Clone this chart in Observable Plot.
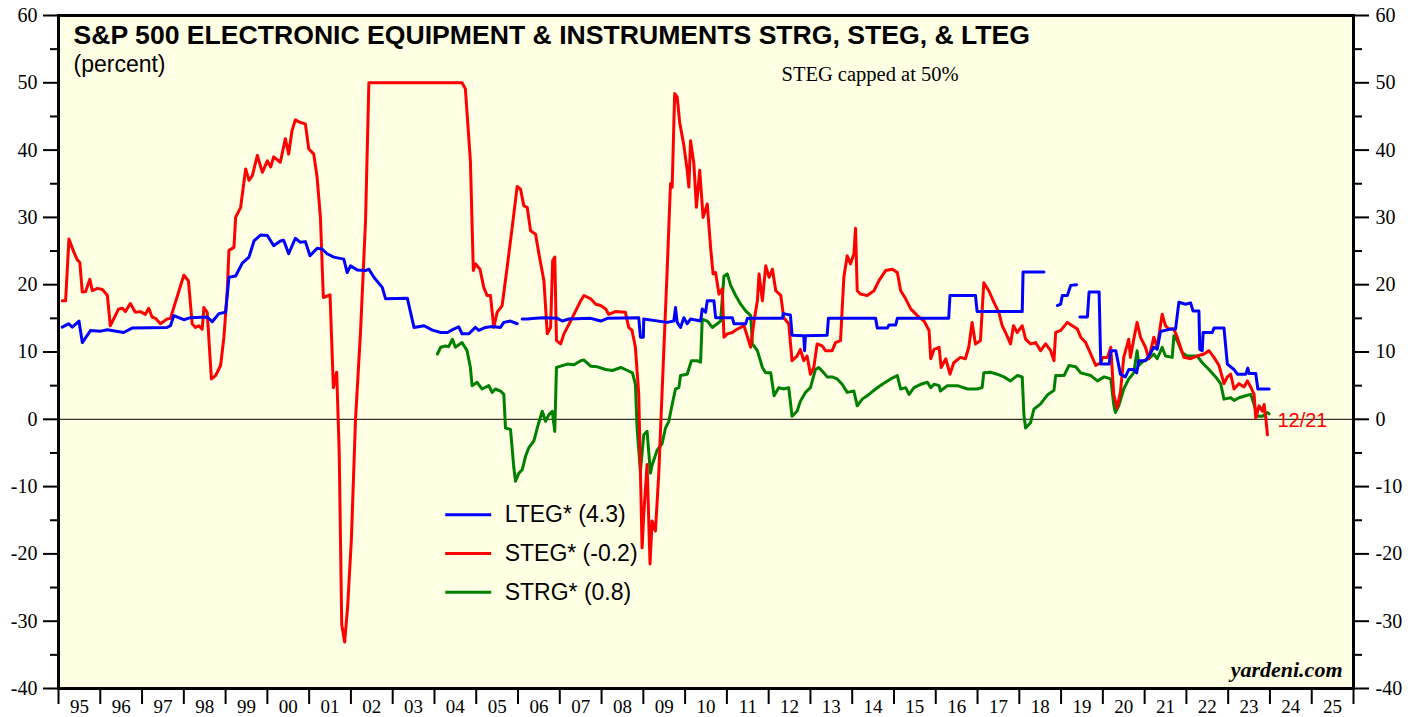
<!DOCTYPE html>
<html><head><meta charset="utf-8">
<script src="https://cdn.jsdelivr.net/npm/d3@7"></script>
<script src="https://cdn.jsdelivr.net/npm/@observablehq/plot@0.6"></script>
<style>body{margin:0;background:#fff}</style>
</head><body><div id="chart"></div>
<script>
// ---- data (decimal year, percent) ----
const lteg = [[1995.09,13.7],[1995.24,14.2],[1995.33,13.7],[1995.49,14.6],[1995.57,11.4],[1995.77,13.2],[1996.01,13.1],[1996.17,13.3],[1996.56,12.9],[1996.76,13.55],[1997.60,13.65],[1997.68,13.9],[1997.76,15.4],[1998.00,14.8],[1998.16,15.1],[1998.56,15.2],[1998.68,14.5],[1998.84,15.7],[1999.00,15.9],[1999.08,21.1],[1999.24,21.3],[1999.40,23.2],[1999.56,24.1],[1999.68,26.5],[1999.84,27.4],[2000.00,27.3],[2000.15,25.8],[2000.31,26.5],[2000.39,26.6],[2000.51,24.6],[2000.67,26.9],[2000.79,26.3],[2000.91,26.4],[2001.02,24.3],[2001.19,25.4],[2001.31,25.3],[2001.43,24.6],[2001.59,24.1],[2001.83,23.8],[2001.91,21.8],[2001.99,22.8],[2002.15,22.2],[2002.35,22.1],[2002.43,22.3],[2002.55,21.1],[2002.75,19.6],[2002.83,17.9],[2003.35,18.0],[2003.51,13.65],[2003.75,13.9],[2003.95,13.25],[2004.15,12.9],[2004.31,12.9],[2004.46,13.4],[2004.58,13.75],[2004.66,12.7],[2004.82,12.7],[2004.98,13.65],[2005.06,13.2],[2005.22,13.65],[2005.38,13.8],[2005.58,13.65],[2005.66,14.4],[2005.82,14.6],[2005.98,14.2],[2006.04,null],[2006.10,14.9],[2006.22,14.9],[2006.42,15.0],[2006.62,15.1],[2006.94,15.0],[2007.06,14.6],[2007.22,14.9],[2007.74,15.0],[2007.98,14.6],[2008.14,15.0],[2008.89,15.1],[2008.93,12.2],[2009.00,12.2],[2009.01,14.9],[2009.57,14.4],[2009.73,14.6],[2009.77,16.6],[2009.81,14.4],[2009.89,13.65],[2009.97,15.1],[2010.05,14.2],[2010.13,14.9],[2010.37,14.6],[2010.41,16.4],[2010.49,15.9],[2010.53,17.6],[2010.69,17.6],[2010.73,15.1],[2011.13,15.1],[2011.17,14.2],[2011.45,14.2],[2011.49,15.0],[2012.33,15.0],[2012.35,15.7],[2012.52,15.5],[2012.56,12.5],[2012.84,12.4],[2012.86,10.2],[2012.88,12.4],[2013.40,12.5],[2013.43,15.0],[2014.56,15.0],[2014.60,13.55],[2014.84,13.55],[2014.88,14.0],[2015.04,14.0],[2015.08,15.0],[2016.31,15.0],[2016.34,18.4],[2016.95,18.4],[2016.99,16.0],[2018.07,16.0],[2018.09,21.9],[2018.59,21.9],[2018.75,null],[2018.91,16.9],[2018.99,17.1],[2019.03,18.4],[2019.15,18.4],[2019.23,19.9],[2019.37,20.0],[2019.41,null],[2019.45,15.2],[2019.63,15.2],[2019.67,18.9],[2019.91,18.9],[2019.95,8.2],[2020.15,8.2],[2020.19,10.2],[2020.31,10.2],[2020.42,6.7],[2020.54,6.3],[2020.62,7.4],[2020.74,7.4],[2020.81,6.9],[2020.86,8.7],[2021.02,8.7],[2021.10,9.4],[2021.22,10.7],[2021.30,10.4],[2021.38,13.05],[2021.62,13.4],[2021.74,13.4],[2021.82,17.4],[2021.98,17.1],[2022.10,17.3],[2022.16,16.1],[2022.30,16.1],[2022.32,10.4],[2022.38,10.2],[2022.40,12.9],[2022.62,12.9],[2022.66,13.55],[2022.90,13.55],[2022.98,8.2],[2023.14,7.4],[2023.22,6.7],[2023.42,6.7],[2023.47,7.6],[2023.50,6.8],[2023.66,6.8],[2023.71,4.5],[2023.98,4.5]];

const steg = [[1995.09,17.6],[1995.17,17.6],[1995.25,26.8],[1995.37,24.8],[1995.45,23.7],[1995.51,23.3],[1995.57,18.9],[1995.65,19.0],[1995.75,20.8],[1995.81,19.1],[1995.93,19.45],[1996.05,19.3],[1996.17,18.4],[1996.24,13.9],[1996.44,16.4],[1996.53,16.5],[1996.60,16.0],[1996.72,17.2],[1996.84,15.9],[1996.96,16.0],[1997.08,15.6],[1997.16,16.5],[1997.24,15.2],[1997.32,15.0],[1997.44,14.2],[1997.60,14.9],[1997.68,15.0],[1998.00,21.4],[1998.11,20.6],[1998.20,14.2],[1998.28,13.65],[1998.36,13.9],[1998.44,13.4],[1998.48,16.6],[1998.56,15.9],[1998.66,6.0],[1998.76,6.5],[1998.88,8.0],[1998.96,12.2],[1999.04,19.1],[1999.08,25.1],[1999.20,25.55],[1999.24,30.0],[1999.36,31.5],[1999.48,37.2],[1999.56,35.5],[1999.64,36.2],[1999.76,39.2],[1999.88,36.7],[2000.00,38.4],[2000.08,37.5],[2000.15,39.0],[2000.31,38.2],[2000.43,41.7],[2000.51,39.4],[2000.59,42.9],[2000.67,44.5],[2000.79,44.1],[2000.91,43.9],[2000.99,40.2],[2001.11,39.4],[2001.19,36.0],[2001.27,30.0],[2001.34,18.1],[2001.50,18.5],[2001.58,4.7],[2001.66,7.0],[2001.72,-5.0],[2001.78,-30.5],[2001.85,-33.1],[2001.92,-28.0],[2002.01,-18.0],[2002.11,0.0],[2002.23,13.0],[2002.35,29.5],[2002.43,50.0],[2004.66,50.0],[2004.74,49.1],[2004.86,38.4],[2004.93,22.1],[2004.98,23.1],[2005.09,22.3],[2005.18,19.6],[2005.26,18.4],[2005.34,18.4],[2005.42,13.65],[2005.50,15.9],[2005.62,16.9],[2005.74,22.6],[2005.86,28.5],[2005.98,34.6],[2006.06,34.2],[2006.14,31.7],[2006.22,31.5],[2006.30,28.0],[2006.42,27.5],[2006.50,24.6],[2006.62,20.6],[2006.70,12.7],[2006.78,13.65],[2006.83,23.6],[2006.88,24.1],[2006.92,11.7],[2007.02,11.2],[2007.10,12.7],[2007.26,14.6],[2007.38,16.1],[2007.50,17.6],[2007.58,18.4],[2007.74,17.9],[2007.86,17.1],[2007.98,16.9],[2008.10,16.4],[2008.17,15.6],[2008.33,16.0],[2008.57,15.9],[2008.65,13.65],[2008.73,13.2],[2008.81,10.7],[2008.89,3.7],[2008.93,-7.7],[2008.97,-19.1],[2009.01,-14.1],[2009.09,-6.7],[2009.16,-21.5],[2009.21,-15.1],[2009.29,-16.6],[2009.37,-8.0],[2009.43,1.2],[2009.49,10.2],[2009.57,22.1],[2009.65,35.0],[2009.69,34.5],[2009.75,48.4],[2009.81,47.9],[2009.87,44.1],[2009.97,40.7],[2010.05,37.0],[2010.09,34.5],[2010.13,41.4],[2010.21,38.0],[2010.27,31.5],[2010.35,37.0],[2010.43,30.0],[2010.53,32.0],[2010.61,25.5],[2010.67,21.6],[2010.73,21.8],[2010.81,18.6],[2010.89,19.4],[2010.93,12.2],[2011.01,12.7],[2011.13,12.9],[2011.25,13.4],[2011.41,13.9],[2011.57,10.7],[2011.65,14.6],[2011.73,17.6],[2011.77,21.6],[2011.85,17.6],[2011.93,22.8],[2012.01,21.1],[2012.09,22.3],[2012.17,19.1],[2012.29,18.4],[2012.36,15.1],[2012.48,14.2],[2012.56,8.7],[2012.68,9.4],[2012.76,10.4],[2012.84,8.7],[2012.92,9.4],[2013.00,6.7],[2013.08,7.7],[2013.16,11.2],[2013.28,10.9],[2013.36,10.2],[2013.52,10.2],[2013.60,11.4],[2013.72,11.7],[2013.80,21.1],[2013.88,24.3],[2013.96,23.1],[2014.04,24.6],[2014.08,28.4],[2014.12,19.1],[2014.20,18.6],[2014.36,18.4],[2014.52,19.1],[2014.64,20.6],[2014.80,22.1],[2014.96,22.3],[2015.08,21.8],[2015.16,19.1],[2015.28,17.9],[2015.40,16.4],[2015.56,15.4],[2015.72,14.6],[2015.84,13.2],[2015.88,9.0],[2015.96,10.4],[2016.08,10.7],[2016.13,7.7],[2016.24,9.0],[2016.34,6.7],[2016.43,8.4],[2016.59,9.2],[2016.71,9.0],[2016.79,10.7],[2016.87,14.4],[2016.95,11.2],[2017.07,11.7],[2017.15,20.3],[2017.27,19.1],[2017.39,17.4],[2017.51,15.9],[2017.59,13.9],[2017.67,12.9],[2017.79,11.2],[2017.86,13.9],[2017.95,12.9],[2018.07,13.9],[2018.15,11.9],[2018.27,11.2],[2018.39,11.4],[2018.51,10.2],[2018.63,11.2],[2018.75,10.2],[2018.83,8.7],[2018.87,12.9],[2018.99,13.2],[2019.15,14.4],[2019.27,13.9],[2019.39,13.4],[2019.47,12.2],[2019.59,11.4],[2019.71,9.7],[2019.83,8.0],[2019.95,8.4],[2019.99,9.2],[2020.11,9.2],[2020.19,10.7],[2020.26,3.7],[2020.34,1.7],[2020.42,4.0],[2020.50,9.2],[2020.62,11.9],[2020.66,9.2],[2020.74,11.9],[2020.82,14.4],[2020.90,12.2],[2021.02,10.7],[2021.10,9.0],[2021.22,12.2],[2021.30,10.7],[2021.42,15.6],[2021.50,13.9],[2021.58,13.4],[2021.70,13.4],[2021.78,12.2],[2021.86,10.7],[2021.94,9.2],[2022.10,9.0],[2022.26,9.4],[2022.42,9.7],[2022.54,10.2],[2022.66,9.2],[2022.78,8.0],[2022.90,5.3],[2022.98,6.3],[2023.06,6.7],[2023.14,4.5],[2023.26,5.3],[2023.38,4.8],[2023.46,5.7],[2023.54,4.8],[2023.62,3.7],[2023.66,0.2],[2023.74,2.0],[2023.82,1.2],[2023.86,2.2],[2023.90,0.2],[2023.94,-2.3]];

const strg = [[2004.07,9.7],[2004.15,10.7],[2004.26,10.9],[2004.34,10.8],[2004.43,11.9],[2004.50,10.7],[2004.66,11.4],[2004.78,10.2],[2004.86,7.7],[2004.90,5.0],[2005.02,5.5],[2005.14,4.5],[2005.30,5.0],[2005.38,4.0],[2005.46,4.5],[2005.58,4.2],[2005.66,3.7],[2005.70,-1.3],[2005.82,-1.5],[2005.90,-7.2],[2005.94,-9.2],[2006.02,-8.0],[2006.10,-7.5],[2006.18,-5.5],[2006.26,-4.2],[2006.38,-3.2],[2006.46,-1.3],[2006.58,1.2],[2006.66,-0.3],[2006.74,0.7],[2006.82,1.2],[2006.88,-1.8],[2006.92,7.7],[2007.02,7.9],[2007.18,8.2],[2007.34,8.1],[2007.50,8.7],[2007.58,8.8],[2007.74,7.9],[2007.90,7.8],[2008.10,7.4],[2008.26,7.25],[2008.46,7.7],[2008.62,7.25],[2008.74,6.9],[2008.81,5.2],[2008.85,-1.3],[2008.93,-7.7],[2009.01,-2.3],[2009.09,-1.8],[2009.17,-8.0],[2009.21,-6.8],[2009.33,-4.6],[2009.45,-3.6],[2009.53,-1.3],[2009.61,-0.3],[2009.69,2.2],[2009.77,4.5],[2009.85,4.7],[2009.89,6.5],[2010.05,6.7],[2010.15,8.7],[2010.29,8.7],[2010.37,8.5],[2010.41,14.9],[2010.53,14.6],[2010.65,13.65],[2010.77,14.2],[2010.85,14.6],[2010.93,21.3],[2011.01,21.6],[2011.09,19.9],[2011.21,18.4],[2011.33,17.1],[2011.45,16.1],[2011.57,15.4],[2011.61,11.2],[2011.73,10.2],[2011.85,7.7],[2011.93,6.9],[2012.05,6.9],[2012.13,3.5],[2012.24,4.7],[2012.36,4.5],[2012.48,4.7],[2012.56,0.45],[2012.68,1.2],[2012.76,2.7],[2012.88,4.0],[2013.00,4.7],[2013.12,7.4],[2013.20,7.7],[2013.32,6.9],[2013.40,6.3],[2013.52,6.3],[2013.64,6.0],[2013.76,5.2],[2013.88,4.0],[2014.04,4.2],[2014.12,2.0],[2014.24,3.0],[2014.40,3.7],[2014.56,4.5],[2014.72,5.2],[2014.92,6.0],[2015.08,6.5],[2015.16,4.5],[2015.28,4.7],[2015.36,3.7],[2015.48,4.7],[2015.64,5.2],[2015.80,5.5],[2015.88,4.7],[2015.96,5.2],[2016.08,5.0],[2016.11,4.2],[2016.28,5.0],[2016.52,5.0],[2016.76,4.5],[2016.99,4.5],[2017.11,4.7],[2017.15,6.9],[2017.31,7.0],[2017.47,6.7],[2017.63,6.3],[2017.79,5.7],[2017.95,6.5],[2018.07,6.3],[2018.11,0.7],[2018.15,-1.3],[2018.27,-0.5],[2018.35,1.5],[2018.51,2.3],[2018.67,3.6],[2018.83,4.3],[2018.87,6.5],[2019.07,6.5],[2019.19,8.0],[2019.35,7.8],[2019.47,6.9],[2019.71,6.5],[2019.87,5.7],[2020.03,6.3],[2020.19,6.0],[2020.26,2.2],[2020.30,1.0],[2020.38,2.0],[2020.50,4.5],[2020.62,6.0],[2020.74,6.9],[2020.82,10.2],[2020.86,8.0],[2020.98,8.7],[2021.10,9.0],[2021.22,9.7],[2021.30,9.0],[2021.42,10.7],[2021.50,9.4],[2021.66,9.2],[2021.70,12.4],[2021.78,11.7],[2021.90,9.9],[2022.02,9.4],[2022.26,9.4],[2022.38,8.4],[2022.54,7.4],[2022.70,6.3],[2022.82,5.3],[2022.90,3.0],[2023.06,3.2],[2023.14,2.8],[2023.26,3.2],[2023.42,3.5],[2023.54,3.7],[2023.62,2.2],[2023.70,0.45],[2023.82,0.45],[2023.94,1.0],[2023.98,0.8]];

const seriesNames = ["LTEG*", "STEG*", "STRG*"];
const latestValues = [4.3, -0.2, 0.8];
const latestDate = "12/21";
const yTicks = [-40, -30, -20, -10, 0, 10, 20, 30, 40, 50, 60];
const yMinorTicks = [-35, -25, -15, -5, 5, 15, 25, 35, 45, 55];
const yearTicks = d3.range(1995, 2027);
const yearLabels = d3.range(1995, 2026).map(y => String(y % 100).padStart(2, "0"));
const titleText = "S&P 500 ELECTRONIC EQUIPMENT & INSTRUMENTS STRG, STEG, & LTEG";
const subtitleText = "(percent)";
const noteText = "STEG capped at 50%";
const sourceText = "yardeni.com";

// ---- build ----
const rows = pairs => pairs.map(([x, y]) => ({x, y}));
const colors = ["#0000ff", "#ff0000", "#008000"];
const sans = "Liberation Sans, Arial, sans-serif";
const serif = "Liberation Serif, Times New Roman, serif";

const legendRows = seriesNames.map((n, i) => ({
  label: `${n} (${latestValues[i]})`,
  color: colors[i],
  y: -14.2 - i * 5.75
}));
const lastX = steg[steg.length - 1][0];
const plainNum = d => String(d);

const chart = Plot.plot({
  width: 1419,
  height: 717,
  marginLeft: 58,
  marginRight: 66,
  marginTop: 15,
  marginBottom: 29,
  x: {domain: [1995, 2026]},
  y: {domain: [-40, 60]},
  style: {background: "white", fontFamily: serif, fontSize: "20px", color: "black", overflow: "visible"},
  marks: [
    Plot.frame({fill: "#ffffe3"}),
    Plot.ruleY([0], {stroke: "black", strokeWidth: 1}),
    Plot.line(rows(strg), {x: "x", y: "y", stroke: colors[2], strokeWidth: 3, strokeLinejoin: "round"}),
    Plot.line(rows(steg), {x: "x", y: "y", stroke: colors[1], strokeWidth: 3, strokeLinejoin: "round"}),
    Plot.line(rows(lteg), {x: "x", y: "y", stroke: colors[0], strokeWidth: 3, strokeLinejoin: "round"}),
    // axes
    Plot.axisY(yTicks, {anchor: "left", tickSize: 15, tickPadding: 6, strokeWidth: 2, tickFormat: plainNum, label: null}),
    Plot.axisY(yMinorTicks, {anchor: "left", tickSize: 8, tickFormat: () => "", strokeWidth: 2, label: null}),
    Plot.axisY(yTicks, {anchor: "right", tickSize: 15, tickPadding: 7, strokeWidth: 2, tickFormat: plainNum, label: null}),
    Plot.axisY(yMinorTicks, {anchor: "right", tickSize: 8, tickFormat: () => "", strokeWidth: 2, label: null}),
    Plot.axisX(yearTicks, {anchor: "bottom", tickSize: 16, tickFormat: () => "", strokeWidth: 2, label: null}),
    Plot.axisX(yearLabels.map((_, i) => 1995.5 + i), {anchor: "bottom", tickSize: 0, tickPadding: 11, fontSize: 19, tickFormat: (d) => yearLabels[Math.floor(d) - 1995], label: null}),
    // legend
    Plot.ruleY(legendRows, {y: "y", x1: 2004.27, x2: 2005.37, stroke: "color", strokeWidth: 3}),
    Plot.text(legendRows, {x: 2005.68, y: "y", text: "label", textAnchor: "start", lineAnchor: "middle", fontFamily: sans, fontSize: 23, fill: "black"}),
    // date label
    Plot.text([latestDate], {x: lastX, y: latestValues[1], text: d => d, dx: 10, textAnchor: "start", lineAnchor: "middle", fontFamily: sans, fontSize: 20, fill: colors[1]}),
    // titles
    Plot.text([titleText], {frameAnchor: "top-left", dx: 15, dy: 10, text: d => d, textAnchor: "start", lineAnchor: "top", fontFamily: sans, fontWeight: "bold", fontSize: 26.6, fill: "black"}),
    Plot.text([subtitleText], {frameAnchor: "top-left", dx: 15, dy: 40, text: d => d, textAnchor: "start", lineAnchor: "top", fontFamily: sans, fontSize: 23, fill: "black"}),
    Plot.text([noteText], {frameAnchor: "top", dx: 164, dy: 51, text: d => d, textAnchor: "middle", lineAnchor: "top", fontFamily: serif, fontSize: 20.5, fill: "black"}),
    Plot.text([sourceText], {frameAnchor: "bottom-right", dx: -11, dy: -27, text: d => d, textAnchor: "end", lineAnchor: "top", fontFamily: serif, fontWeight: "bold", fontStyle: "italic", fontSize: 22, fill: "black"}),
    Plot.frame({stroke: "black", strokeWidth: 3})
  ]
});
document.getElementById("chart").appendChild(chart);
</script></body></html>
